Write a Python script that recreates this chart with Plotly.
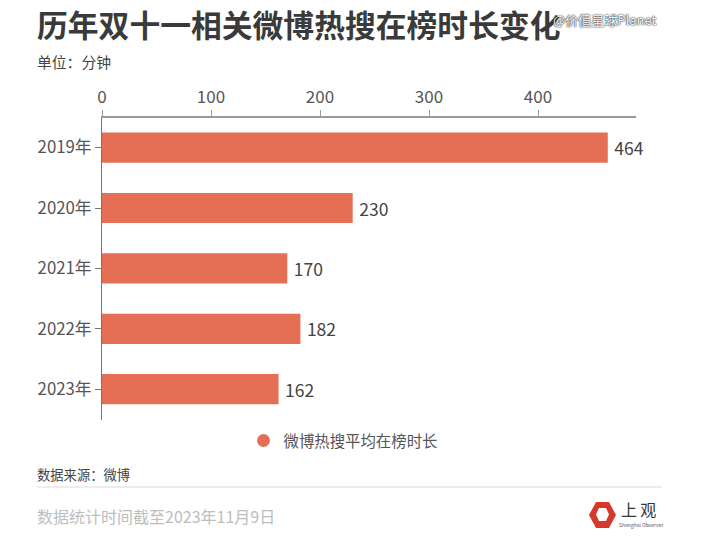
import plotly.graph_objects as go

years = ["2019年", "2020年", "2021年", "2022年", "2023年"]
minutes = [464, 230, 170, 182, 162]
x_ticks = [0, 100, 200, 300, 400]
series_name = "微博热搜平均在榜时长"

W, H = 709, 541
L, R, T, B = 102, 636, 118, 420
FONT = "Noto Sans CJK SC"


# pixel position in the picture -> paper coords
def px(x):
    return (x - L) / (R - L)


def py(y):
    return (B - y) / (B - T)


def note(text, x, y, size, color, anchor="left", **font_opts):
    return dict(text=text, x=px(x), y=py(y), xref="paper", yref="paper", xanchor=anchor, yanchor="middle",
                showarrow=False, font=dict(family=FONT, size=size, color=color, **font_opts))


fig = go.Figure()
fig.add_trace(go.Bar(y=years, x=minutes, orientation="h", marker=dict(color="#E56F55", line_width=0),
                     texttemplate="\u2009%{x}", textposition="outside", cliponaxis=False, showlegend=False,
                     textfont=dict(family=FONT, size=17.5, color="#444444")))
# legend entry is a circle in the original
fig.add_trace(go.Scatter(x=[None], y=[None], mode="markers", name=series_name,
                         marker=dict(color="#E56F55", size=13)))

# logo
hexa = [(589, 515), (596, 502), (609, 502), (616, 515), (609, 528), (596, 528)]
hole = [(596, 514.5), (599, 508), (606, 508), (609, 514.5), (606, 521), (599, 521)]


def path(pts):
    return "M " + " L ".join(f"{px(a):.4f} {py(b):.4f}" for a, b in pts) + " Z"


shapes = [
    dict(type="path", xref="paper", yref="paper", path=path(hexa), fillcolor="#D5382C", line_width=0),
    dict(type="path", xref="paper", yref="paper", path=path(hole), fillcolor="white", line_width=0),
    dict(type="line", xref="paper", yref="paper", x0=px(37), x1=px(662), y0=py(487), y1=py(487),
         line=dict(color="#DADADA", width=1)),
]

annotations = [
    note("<b>历年双十一相关微博热搜在榜时长变化</b>", 35, 23, 30.8, "#3A3A3A"),
    note("@价值星球Planet", 551, 20, 13, "#FFFFFF", shadow="0 0 1px #111111, 0 0 2px #111111"),
    note("单位：分钟", 35, 62, 14.8, "#444444"),
    note("数据来源：微博", 35, 474, 13.3, "#444444"),
    note("数据统计时间截至2023年11月9日", 35, 516, 16, "#BDBDBD"),
    note("上\u2009观", 619, 509, 16, "#333333"),
    note("Shanghai Observer", 617, 525, 5, "#555555"),
]

fig.update_layout(
    width=W, height=H, margin=dict(l=L, r=W - R, t=T, b=H - B),
    paper_bgcolor="white", plot_bgcolor="white", bargap=0.5,
    font=dict(family=FONT, color="#555555"),
    shapes=shapes, annotations=annotations,
    legend=dict(orientation="h", x=px(343), y=py(441), xanchor="center", yanchor="middle",
                font=dict(family=FONT, size=15.4, color="#555555"), itemwidth=30),
)
fig.update_xaxes(side="top", range=[0, (R - L) / 1.09], tickvals=x_ticks, ticks="outside", ticklen=6,
                 tickcolor="#999999", showgrid=False, zeroline=False, showline=True, linecolor="#999999",
                 linewidth=1.5, tickfont=dict(family=FONT, size=17, color="#555555"))
fig.update_yaxes(range=[4.51, -0.49], ticks="outside", ticklen=6, tickcolor="#777777", showgrid=False,
                 showline=True, linecolor="#777777", linewidth=1,
                 tickfont=dict(family=FONT, size=16.8, color="#555555"))

fig.write_html("out.html", post_script="document.body.style.margin='0';", config={"displayModeBar": False})
